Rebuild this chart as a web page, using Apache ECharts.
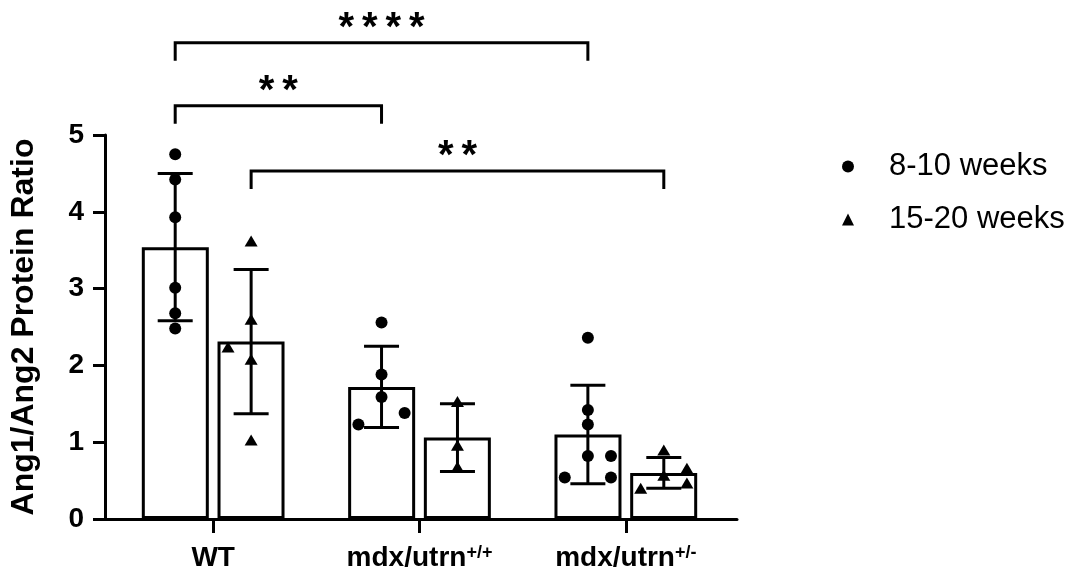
<!DOCTYPE html>
<html><head><meta charset="utf-8">
<script src="https://cdn.jsdelivr.net/npm/echarts@6/dist/echarts.min.js"></script>
<style>html,body{margin:0;padding:0;background:#fff}#c{width:1080px;height:575px}</style>
</head><body><div id="c"></div>
<script>
// ---- data ----
const categories = ['WT', 'mdx/utrn', 'mdx/utrn'];
const genotypeSup = ['', '+/+', '+/-'];
const groupNames = ['8-10 weeks', '15-20 weeks'];
const yTicks = [0, 1, 2, 3, 4, 5];
const mean8 = [3.54, 1.72, 1.10];
const sd8 = [0.96, 0.53, 0.64];
const mean15 = [2.31, 1.06, 0.60];
const sd15 = [0.94, 0.44, 0.20];
// individual animals: [category index, value]
const points8 = [[0,4.75],[0,4.42],[0,3.93],[0,3.01],[0,2.68],[0,2.48],
  [1,2.56],[1,1.88],[1,1.59],[1,1.38],[1,1.23],
  [2,2.36],[2,1.42],[2,1.23],[2,0.82],[2,0.82],[2,0.54],[2,0.54]];
const jitter8 = [0,0,0,0,0,0, 0,0,0,1,-1, 0,0,0,0,1,-1,1];
const points15 = [[0,3.62],[0,2.24],[0,2.60],[0,2.08],[0,1.03],
  [1,1.53],[1,0.96],[1,0.68],
  [2,0.90],[2,0.66],[2,0.57],[2,0.40],[2,0.47]];
const jitter15 = [0,-1,0,0,0, 0,0,0, 0,1,0,-1,1];
// comparisons: [category A, group A, category B, group B, bracket height, label]
const comparisons = [[0,0,2,0,6.20,'****'],[0,0,1,0,5.38,'**'],[0,1,2,1,4.53,'**']];

// ---- layout helpers ----
const FONT = 'Liberation Sans, Arial, sans-serif';
const SIDE = 0.184;   // half distance between paired bars (category units)
const JIT = 0.112;    // jitter step (category units)
const sideX = (cat, g) => cat + (g === 0 ? -SIDE : SIDE);

const scatter8 = points8.map((p, i) => [sideX(p[0], 0) + jitter8[i] * JIT, p[1]]);
const scatter15 = points15.map((p, i) => [sideX(p[0], 1) + jitter15[i] * JIT, p[1]]);
const errData = [];
mean8.forEach((m, i) => errData.push([sideX(i, 0), m, sd8[i]]));
mean15.forEach((m, i) => errData.push([sideX(i, 1), m, sd15[i]]));
const bracketData = comparisons.map(c => [sideX(c[0], c[1]), sideX(c[2], c[3]), c[4]]);

const black = '#000';
const chart = echarts.init(document.getElementById('c'), null, {renderer: 'canvas'});
chart.setOption({
  animation: false,
  backgroundColor: '#fff',
  grid: [
    {left: 101, right: 343, top: 135, bottom: 56},
    {left: 110, right: 351, top: 135, bottom: 56}
  ],
  legend: {
    orient: 'vertical', left: 837, top: 146, itemWidth: 12, itemHeight: 12, itemGap: 22,
    selectedMode: false,
    textStyle: {fontFamily: FONT, fontSize: 31, color: black, padding: [0, 0, 0, 30]},
    data: [{name: groupNames[0], icon: 'circle'}, {name: groupNames[1], icon: 'triangle'}]
  },
  xAxis: [
    {gridIndex: 0, type: 'value', min: 0, max: 1, axisLine: {show: true, lineStyle: {color: black, width: 3}},
     axisTick: {show: false}, axisLabel: {show: false}, splitLine: {show: false}},
    {gridIndex: 1, type: 'category', data: categories, axisLine: {show: false},
     axisTick: {show: true, alignWithLabel: true, length: 14, lineStyle: {color: black, width: 3}},
     axisLabel: {margin: 25, color: black,
       formatter: (v, i) => '{b|' + v + '}' + (genotypeSup[i] ? '{s|' + genotypeSup[i] + '}' : ''),
       rich: {b: {fontFamily: FONT, fontSize: 28, fontWeight: 'bold', color: black},
              s: {fontFamily: FONT, fontSize: 18, fontWeight: 'bold', color: black, verticalAlign: 'top'}}}},
    {gridIndex: 1, type: 'value', min: -0.5, max: 2.5, show: false}
  ],
  yAxis: [
    {gridIndex: 0, type: 'value', min: yTicks[0], max: yTicks[yTicks.length - 1], interval: 1,
     name: 'Ang1/Ang2 Protein Ratio', nameLocation: 'middle', nameRotate: 90, nameGap: 65,
     nameTextStyle: {fontFamily: FONT, fontSize: 32, fontWeight: 'bold', color: black},
     axisLine: {show: true, lineStyle: {color: black, width: 3}},
     axisTick: {show: true, length: 12, lineStyle: {color: black, width: 3}},
     axisLabel: {margin: 21, fontFamily: FONT, fontSize: 28, fontWeight: 'bold', color: black},
     splitLine: {show: false}},
    {gridIndex: 1, type: 'value', min: 0, max: 5, show: false}
  ],
  series: [
    {type: 'bar', name: 'bar8', xAxisIndex: 1, yAxisIndex: 1, data: mean8, barWidth: 67, barGap: '13%', z: 2,
     itemStyle: {color: '#fff', borderColor: black, borderWidth: 3}},
    {type: 'bar', name: 'bar15', xAxisIndex: 1, yAxisIndex: 1, data: mean15, barWidth: 67, barGap: '13%', z: 2,
     itemStyle: {color: '#fff', borderColor: black, borderWidth: 3}},
    {type: 'custom', name: 'sd', xAxisIndex: 2, yAxisIndex: 1, data: errData, z: 3,
     renderItem: (params, api) => {
       const x = api.value(0), m = api.value(1), s = api.value(2);
       const t = api.coord([x, m + s]), b = api.coord([x, m - s]);
       const h = 17.5, st = {stroke: black, lineWidth: 3};
       return {type: 'group', children: [
         {type: 'line', shape: {x1: t[0], y1: t[1], x2: b[0], y2: b[1]}, style: st},
         {type: 'line', shape: {x1: t[0] - h, y1: t[1], x2: t[0] + h, y2: t[1]}, style: st},
         {type: 'line', shape: {x1: b[0] - h, y1: b[1], x2: b[0] + h, y2: b[1]}, style: st}
       ]};
     }},
    {type: 'scatter', name: groupNames[0], xAxisIndex: 2, yAxisIndex: 1, data: scatter8, z: 4,
     symbol: 'circle', symbolSize: 12, itemStyle: {color: black, opacity: 1}},
    {type: 'scatter', name: groupNames[1], xAxisIndex: 2, yAxisIndex: 1, data: scatter15, z: 4,
     symbol: 'triangle', symbolSize: [13, 11], itemStyle: {color: black, opacity: 1}},
    {type: 'custom', name: 'sig', xAxisIndex: 2, yAxisIndex: 1, data: bracketData, z: 5, clip: false,
     renderItem: (params, api) => {
       const a = api.coord([api.value(0), api.value(2)]), b = api.coord([api.value(1), api.value(2)]);
       const drop = 18, st = {stroke: black, lineWidth: 3, fill: null};
       const label = comparisons[params.dataIndex][5].split('').join('\u2009');
       return {type: 'group', children: [
         {type: 'polyline', shape: {points: [[a[0], a[1] + drop], [a[0], a[1]], [b[0], b[1]], [b[0], b[1] + drop]]}, style: st},
         {type: 'text', style: {text: label, x: (a[0] + b[0]) / 2, y: a[1] - 14,
           align: 'center', verticalAlign: 'middle', fill: black,
           font: 'bold 40px ' + FONT}}
       ]};
     }}
  ]
});
</script></body></html>
